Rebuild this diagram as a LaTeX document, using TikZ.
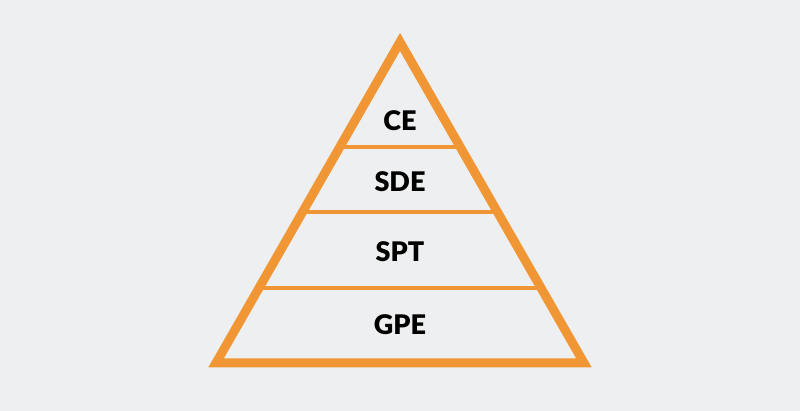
\documentclass[tikz,border=0pt]{standalone}
\usepackage{fontspec}
\setmainfont{Lato}[BoldFont={Lato Black}]
\usetikzlibrary{calc}
\definecolor{pyr}{RGB}{240,150,52}
\definecolor{bg}{RGB}{237,239,241}

\begin{document}
\begin{tikzpicture}[
    x=1pt, y=1pt,
    edge/.style={
        draw=pyr, line width=9pt, line join=miter
    },
    divider/.style={
        draw=pyr, line width=4pt
    },
    tier/.style={
        font=\fontsize{27}{32}\selectfont\bfseries, text=black
    }
]
    \fill[bg] (0,0) rectangle (800,411);
    \useasboundingbox (0,0) rectangle (800,411);

    \coordinate (apex) at (400,369);
    \coordinate (left) at (216,48);
    \coordinate (right) at (584,48);

    % dividers between the tiers
    \foreach \t/\n in {0.327/a, 0.530/b, 0.766/c} {
        \coordinate (l\n) at ($(apex)!\t!(left)$);
        \coordinate (r\n) at ($(apex)!\t!(right)$);
        \draw[divider] (l\n) -- (r\n);
    }

    \draw[edge] (apex) -- (left) -- (right) -- cycle;

    \node[tier] (ce) at (400,290) {CE};
    \node[tier] (sde) at (400,229) {SDE};
    \node[tier] (spt) at (400,159) {SPT};
    \node[tier] (gpe) at (400,86) {GPE};
\end{tikzpicture}
\end{document}
